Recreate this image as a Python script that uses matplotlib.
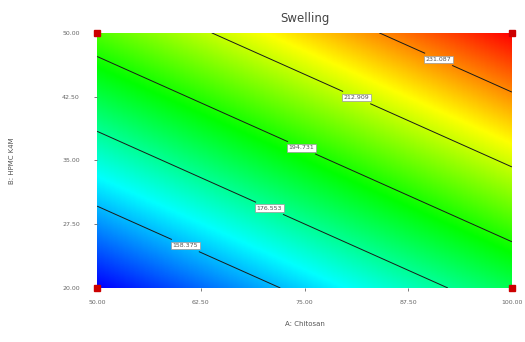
import numpy as np
import matplotlib
matplotlib.use("Agg")
import matplotlib.pyplot as plt
from matplotlib.colors import LinearSegmentedColormap

# --------------------- Swelling response surface (contour view) ---------------------
x_ticks = [50.00, 62.50, 75.00, 87.50, 100.00]
y_ticks = [20.00, 27.50, 35.00, 42.50, 50.00]

# fitted linear model: Swelling = b0 + bA*(A-50) + bB*(B-20)
b0 = 138.5
bA = 0.90
bB = 2.066

contour_levels = [158.375, 176.553, 194.731, 212.909, 231.087]
label_spots = [(60.6, 24.9), (70.8, 29.4), (74.7, 36.6), (81.2, 42.2), (91.0, 46.5)]

design_A = [50.0, 50.0, 100.0, 100.0]
design_B = [20.0, 50.0, 20.0, 50.0]

A = np.linspace(50, 100, 300)
B = np.linspace(20, 50, 300)
AA, BB = np.meshgrid(A, B)
Z = b0 + bA * (AA - 50) + bB * (BB - 20)

cmap = LinearSegmentedColormap.from_list(
    "de", ["#0000ff", "#00ffff", "#00ff00", "#ffff00", "#ff0000"])

fig = plt.figure(figsize=(5.25, 3.42), dpi=100)
ax = fig.add_axes([0.185, 0.158, 0.79, 0.746])

ax.imshow(Z, origin="lower", extent=[50, 100, 20, 50], aspect="auto",
          cmap=cmap, interpolation="bilinear")
cs = ax.contour(AA, BB, Z, levels=contour_levels, colors="#1a1a1a", linewidths=0.7)
labels = ax.clabel(cs, fmt="%.3f", fontsize=4.5, manual=label_spots, inline=True,
                   inline_spacing=2)
for t in labels:
    t.set_rotation(0)
    t.set_color("#555555")
    t.set_bbox(dict(facecolor="white", edgecolor="#999999", pad=1.0, linewidth=0.5))

ax.plot(design_A, design_B, "s", color="#cc0000", markersize=4, clip_on=False, zorder=5)

ax.set_xlim(50, 100)
ax.set_ylim(20, 50)
ax.set_xticks(x_ticks)
ax.set_yticks(y_ticks)
ax.set_xticklabels([f"{v:.2f}" for v in x_ticks])
ax.set_yticklabels([f"{v:.2f}" for v in y_ticks])
ax.tick_params(labelsize=4.5, colors="#666666", length=2.5, width=0.6, pad=6)
ax.tick_params(axis="y", pad=10)
for s in ax.spines.values():
    s.set_visible(False)

ax.set_title("Swelling", fontsize=8.5, color="#444444", pad=8)
ax.set_xlabel("A: Chitosan", fontsize=5, color="#555555", labelpad=12)
ax.set_ylabel("B: HPMC K4M", fontsize=5, color="#555555", labelpad=34)

fig.savefig("out.png", dpi=100)
